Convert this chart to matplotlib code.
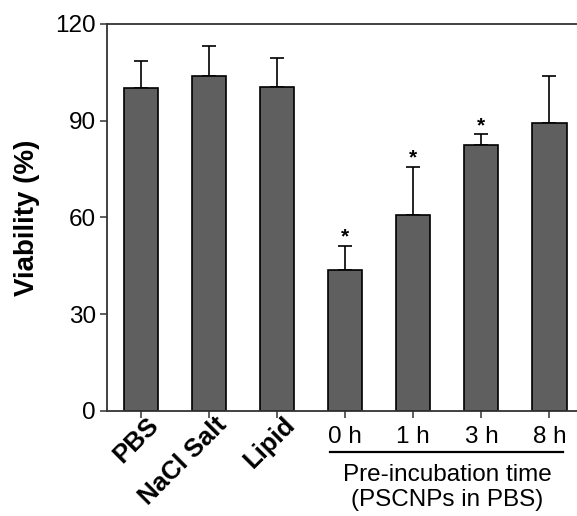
import numpy as np
import matplotlib.pyplot as plt
from matplotlib import transforms

plt.rcParams['font.family'] = ['Liberation Sans', 'DejaVu Sans']

# %% data
groups = ["PBS", "NaCl Salt", "Lipid", "0 h", "1 h", "3 h", "8 h"]
viability = [100.0, 103.8, 100.6, 43.7, 60.8, 82.5, 89.2]
sd_upper = [8.5, 9.5, 8.9, 7.6, 15.0, 3.3, 14.8]
significant = [False, False, False, True, True, True, False]
n_controls = 3

# %% plot
fig = plt.figure(figsize=(5.77, 5.16), dpi=100)
ax = fig.add_axes([0.1854, 0.2035, 0.8146, 0.75])

x = np.arange(len(groups))
ax.bar(x, viability, width=0.5, color="#5f5f5f", edgecolor="black", linewidth=1.2, zorder=2)
ax.errorbar(x, viability, yerr=[np.zeros(len(x)), sd_upper], fmt="none",
            ecolor="black", elinewidth=1.2, capsize=4.7, capthick=1.2, zorder=1)

for xi, v, e, s in zip(x, viability, sd_upper, significant):
    if s:
        ax.text(xi, v + e - 0.3, "*", ha="center", va="bottom", fontsize=15, fontweight="bold")

ax.set_ylim(0, 120)
ax.set_xlim(-0.5, 6.404)
ax.set_yticks([0, 30, 60, 90, 120])
ax.tick_params(axis="y", labelsize=17.5, length=5, width=1.1, color="#333333", pad=3)
ax.tick_params(axis="x", length=5, width=1.1, color="#333333", pad=6)
ax.set_ylabel("Viability (%)", fontsize=20, fontweight="bold", labelpad=11)

ax.set_xticks(x)
ax.set_xticklabels(groups)
offset = transforms.ScaledTranslation(10 / 72, 3.5 / 72, fig.dpi_scale_trans)
for i, lab in enumerate(ax.get_xticklabels()):
    if i < n_controls:
        lab.set_rotation(45)
        lab.set_rotation_mode("anchor")
        lab.set_ha("right")
        lab.set_va("center")
        lab.set_fontweight("bold")
        lab.set_fontsize(18.5)
        lab.set_transform(lab.get_transform() + offset)
    else:
        lab.set_fontsize(17.5)

for side in ["left", "bottom", "top"]:
    ax.spines[side].set_color("#333333")
    ax.spines[side].set_linewidth(1.3)
ax.spines["right"].set_visible(False)

# bracket line and caption under the pre-incubation groups
trans = transforms.blended_transform_factory(ax.transData, ax.transAxes)
ax.plot([n_controls - 0.22, len(groups) - 1 + 0.2], [-0.106, -0.106], color="black",
        lw=1.6, transform=trans, clip_on=False)
ax.text((n_controls + len(groups) - 1) / 2, -0.197, "Pre-incubation time\n(PSCNPs in PBS)",
        ha="center", va="center", fontsize=17.5, transform=trans, linespacing=1.2)

fig.savefig("out.png", dpi=100)
